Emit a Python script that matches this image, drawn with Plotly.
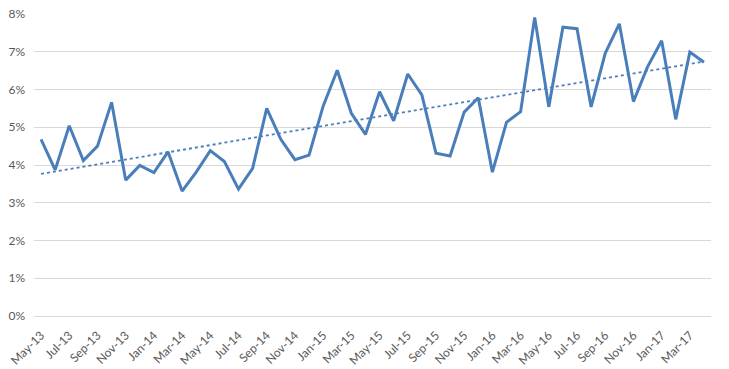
import numpy as np
import plotly.graph_objects as go

months = ["May-13","Jun-13","Jul-13","Aug-13","Sep-13","Oct-13","Nov-13","Dec-13",
          "Jan-14","Feb-14","Mar-14","Apr-14","May-14","Jun-14","Jul-14","Aug-14",
          "Sep-14","Oct-14","Nov-14","Dec-14","Jan-15","Feb-15","Mar-15","Apr-15",
          "May-15","Jun-15","Jul-15","Aug-15","Sep-15","Oct-15","Nov-15","Dec-15",
          "Jan-16","Feb-16","Mar-16","Apr-16","May-16","Jun-16","Jul-16","Aug-16",
          "Sep-16","Oct-16","Nov-16","Dec-16","Jan-17","Feb-17","Mar-17","Apr-17"]
values = [4.68,3.87,5.04,4.12,4.50,5.66,3.60,3.99,
          3.80,4.35,3.31,3.81,4.38,4.09,3.36,3.91,
          5.50,4.68,4.14,4.26,5.56,6.51,5.37,4.81,
          5.94,5.17,6.41,5.86,4.31,4.24,5.40,5.78,
          3.81,5.13,5.41,7.91,5.54,7.65,7.61,5.54,
          6.96,7.74,5.68,6.60,7.29,5.21,6.99,6.72]
y_ticks = [0,1,2,3,4,5,6,7,8]
y_labels = ["0%","1%","2%","3%","4%","5%","6%","7%","8%"]

x = np.arange(len(months))
slope, intercept = np.polyfit(x, values, 1)
trend = slope * x + intercept

fig = go.Figure()
fig.add_trace(go.Scatter(x=x, y=values, mode="lines",
                         line=dict(color="#4A7EBB", width=3), showlegend=False,
                         cliponaxis=False, hoverinfo="skip"))
fig.add_trace(go.Scatter(x=x, y=trend, mode="lines",
                         line=dict(color="#4A7EBB", width=1.8, dash="dot"), showlegend=False,
                         hoverinfo="skip"))

fig.update_layout(
    width=729, height=369,
    margin=dict(l=34, r=18, t=14, b=53),
    paper_bgcolor="white", plot_bgcolor="white",
    font=dict(family="Lato, Open Sans, sans-serif", size=12, color="#595959"),
)
fig.update_xaxes(range=[-0.5, len(months) - 0.5], automargin=False,
                 tickvals=x[::2], ticktext=months[::2],
                 tickangle=-45, showgrid=False, zeroline=False,
                 showline=False, ticks="", tickfont=dict(size=12),
                 ticklabelstandoff=9)
fig.update_yaxes(range=[0, 8], automargin=False, tickvals=y_ticks, ticktext=y_labels,
                 showgrid=True, gridcolor="#D9D9D9", gridwidth=1,
                 zeroline=True, zerolinecolor="#D9D9D9", zerolinewidth=1,
                 ticks="", tickfont=dict(size=12), ticklabelstandoff=8)

fig.write_html("out.html", config={"displayModeBar": False},
               post_script="document.body.style.margin='0';document.body.style.padding='0';")
